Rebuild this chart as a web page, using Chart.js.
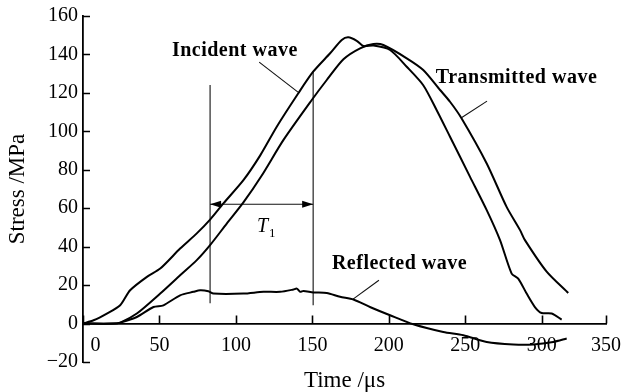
<!DOCTYPE html>
<html>
<head>
<meta charset="utf-8">
<script src="https://cdn.jsdelivr.net/npm/chart.js@4/dist/chart.umd.min.js"></script>
<style>
  html, body { margin: 0; padding: 0; background: #fff; }
  canvas { display: block; }
</style>
</head>
<body>
<canvas id="waveChart" width="622" height="392"></canvas>
<script>
// wave records (time in µs, stress in MPa)
const incidentTime   = [0, 6.9, 15.6, 24.3, 30.8, 41.8, 50.5, 63.5, 74.4, 83.1, 91.8, 104.9, 115.9, 126.7, 140.8, 150.5, 161.6, 169.2, 173.5, 179, 183.3, 190, 200.8, 211.7, 222.5, 231.3, 240, 253.1, 264, 272.7, 280.3, 284.6, 290.1, 295.5, 299.9, 306.5, 313];
const incidentStress = [0, 1.7, 5.2, 9.5, 17.3, 24.3, 28.6, 39, 46.9, 54.1, 62.5, 74.6, 87.5, 102.4, 119.8, 131, 140.6, 147.5, 148.9, 147.1, 144.4, 144.6, 142.3, 133.6, 124, 111, 97.2, 76.3, 59, 43.4, 26, 23.4, 15.6, 8.6, 5.5, 5.2, 2.1];

const transmittedTime   = [0, 20, 24.4, 35.2, 50.5, 63.5, 74.4, 83.1, 94, 104.9, 116.9, 131, 149.6, 159.4, 170.3, 181.2, 189.9, 196.4, 211.7, 222.5, 233.5, 240, 247.6, 264, 277, 285.8, 289, 303.2, 317.3];
const transmittedStress = [0, 0, 0.5, 5.2, 15.6, 25.1, 33, 40.8, 52, 63, 77, 95.4, 116.3, 126.7, 137.5, 143.2, 145.4, 144.9, 138, 131.9, 121.5, 115.4, 106.7, 83.3, 60.7, 48.6, 43.4, 27, 15.9];

const reflectedTime   = [0, 20, 24.4, 35.2, 46.1, 52.6, 63.5, 72.2, 76.6, 82, 85.3, 104.9, 118, 128.9, 137.6, 139.8, 142, 144.1, 150.7, 159.4, 168.1, 176.8, 188, 200.8, 216, 235.6, 248.7, 264, 281.4, 294.4, 307.5, 316.3];
const reflectedStress = [0, 0, 0.5, 3.4, 8.6, 9.5, 14.7, 16.5, 17.3, 16.8, 15.6, 15.6, 16.5, 16.5, 17.7, 18.2, 16.5, 17, 16.2, 15.9, 13.9, 12.5, 8.5, 4.3, -0.4, -4.4, -6.1, -9.6, -10.9, -10.9, -9.6, -7.8];

// T1 interval markers
const markerTime   = [83.1, 150.5];
const markerTop    = [124.1, 131];
const markerBottom = [10.6, 9.5];
const periodStress = 62.1;

// curve labels and their leader lines
const labelText   = ['Incident wave', 'Transmitted wave', 'Reflected wave'];
const labelTime   = [99.3, 283.5, 207];
const labelStress = [139.3, 125, 28.6];
const leaderTime   = [[115.2, 140.6], [264.2, 247.2], [193.5, 176.6]];
const leaderStress = [[136, 120.4], [115.7, 106.9], [22.5, 12.7]];

// axis ticks; the last tick sits at the end of the time axis
const timeAxisEnd = 342;
const timeTickValues = [0, 50, 100, 150, 200, 250, 300, timeAxisEnd];
const timeTickLabels = ['\u00a0\u00a0\u00a0\u00a0\u00a00', '50', '100', '150', '200', '250', '300', '350'];
const stressTicks = [-20, 0, 20, 40, 60, 80, 100, 120, 140, 160];

const FONT = 'Liberation Serif';

function pairs(xs, ys) {
    return xs.map((x, i) => ({ x: x, y: ys[i] }));
}

function curve(label, xs, ys) {
    return {
        label: label,
        data: pairs(xs, ys),
        borderColor: '#000',
        borderWidth: 2,
        pointRadius: 0,
        tension: 0.25,
        fill: false
    };
}

function thinLine(label, xs, ys) {
    return {
        label: label,
        data: pairs(xs, ys),
        borderColor: '#111',
        borderWidth: 1.1,
        pointRadius: 0,
        tension: 0,
        fill: false
    };
}

const datasets = [
    curve('Incident wave', incidentTime, incidentStress),
    curve('Transmitted wave', transmittedTime, transmittedStress),
    curve('Reflected wave', reflectedTime, reflectedStress)
];
markerTime.forEach((t, i) => {
    datasets.push(thinLine('marker' + i, [t, t], [markerBottom[i], markerTop[i]]));
});
datasets.push(thinLine('period', markerTime, [periodStress, periodStress]));
leaderTime.forEach((xs, i) => {
    datasets.push(thinLine('leader' + i, xs, leaderStress[i]));
});

// inward tick marks, arrowheads and text labels
const decorations = {
    id: 'decorations',
    afterDatasetsDraw(chart) {
        const ctx = chart.ctx;
        const xs = chart.scales.x;
        const ys = chart.scales.y;
        const y0 = ys.getPixelForValue(0);
        const left = chart.chartArea.left;

        ctx.save();
        ctx.strokeStyle = '#000';
        ctx.lineWidth = 1.6;
        ctx.beginPath();
        timeTickValues.forEach(v => {
            const px = Math.round(xs.getPixelForValue(v)) + 0.5;
            ctx.moveTo(px, y0);
            ctx.lineTo(px, y0 - 8);
        });
        stressTicks.forEach(v => {
            const py = Math.round(ys.getPixelForValue(v)) + 0.5;
            ctx.moveTo(left, py);
            ctx.lineTo(left + 7, py);
        });
        ctx.stroke();

        // arrowheads pointing out to both markers
        const ay = ys.getPixelForValue(periodStress);
        const ax1 = xs.getPixelForValue(markerTime[0]);
        const ax2 = xs.getPixelForValue(markerTime[1]);
        ctx.fillStyle = '#000';
        ctx.beginPath();
        ctx.moveTo(ax1, ay);
        ctx.lineTo(ax1 + 11, ay - 3.5);
        ctx.lineTo(ax1 + 11, ay + 3.5);
        ctx.closePath();
        ctx.moveTo(ax2, ay);
        ctx.lineTo(ax2 - 11, ay - 3.5);
        ctx.lineTo(ax2 - 11, ay + 3.5);
        ctx.closePath();
        ctx.fill();

        // curve names
        ctx.font = 'bold 20px "' + FONT + '"';
        ctx.letterSpacing = '0.5px';
        ctx.textAlign = 'center';
        ctx.textBaseline = 'alphabetic';
        labelText.forEach((txt, i) => {
            ctx.fillText(txt, xs.getPixelForValue(labelTime[i]), ys.getPixelForValue(labelStress[i]));
        });
        ctx.letterSpacing = '0px';

        // T1
        const tx = xs.getPixelForValue(117.4);
        const ty = ys.getPixelForValue(47.7);
        ctx.font = 'italic 20px "' + FONT + '"';
        ctx.textAlign = 'center';
        ctx.fillText('T', tx, ty);
        ctx.font = '13px "' + FONT + '"';
        ctx.textAlign = 'left';
        ctx.fillText('1', tx + 6.5, ty + 5);
        ctx.restore();
    }
};

const ctx = document.getElementById('waveChart').getContext('2d');
const waveChart = new Chart(ctx, {
    type: 'line',
    data: { datasets: datasets },
    options: {
        responsive: false,
        animation: false,
        layout: { padding: { top: 16, right: 16, bottom: 30, left: 0 } },
        plugins: {
            legend: { display: false },
            tooltip: { enabled: false }
        },
        scales: {
            x: {
                type: 'linear',
                min: 0,
                max: timeAxisEnd,
                position: { y: 0 },
                afterBuildTicks: scale => {
                    scale.ticks = timeTickValues.map(v => ({ value: v }));
                },
                afterFit: scale => {
                    scale.paddingLeft = 0;
                    scale.paddingRight = 0;
                },
                ticks: {
                    autoSkip: false,
                    maxRotation: 0,
                    padding: 10,
                    color: '#000',
                    font: { family: FONT, size: 20 },
                    callback: (value, index) => timeTickLabels[index]
                },
                grid: { display: false, drawTicks: false },
                border: { display: true, color: '#000', width: 1.8 },
                title: {
                    display: true,
                    text: 'Time /\u03bcs',
                    color: '#000',
                    font: { family: FONT, size: 23 },
                    padding: { top: 0, bottom: 0 }
                }
            },
            y: {
                type: 'linear',
                position: 'left',
                min: -20,
                max: 160,
                afterFit: scale => {
                    scale.width = 83;
                    scale.paddingTop = 0;
                    scale.paddingBottom = 0;
                },
                ticks: {
                    stepSize: 20,
                    padding: 5,
                    color: '#000',
                    font: { family: FONT, size: 20 },
                    callback: value => value < 0 ? '\u2212' + Math.abs(value) : String(value)
                },
                grid: { display: false, drawTicks: false },
                border: { display: true, color: '#000', width: 1.8 },
                title: {
                    display: true,
                    text: 'Stress /MPa',
                    color: '#000',
                    font: { family: FONT, size: 23 },
                    padding: { top: 4, bottom: 0 }
                }
            }
        }
    },
    plugins: [decorations]
});
</script>
</body>
</html>
